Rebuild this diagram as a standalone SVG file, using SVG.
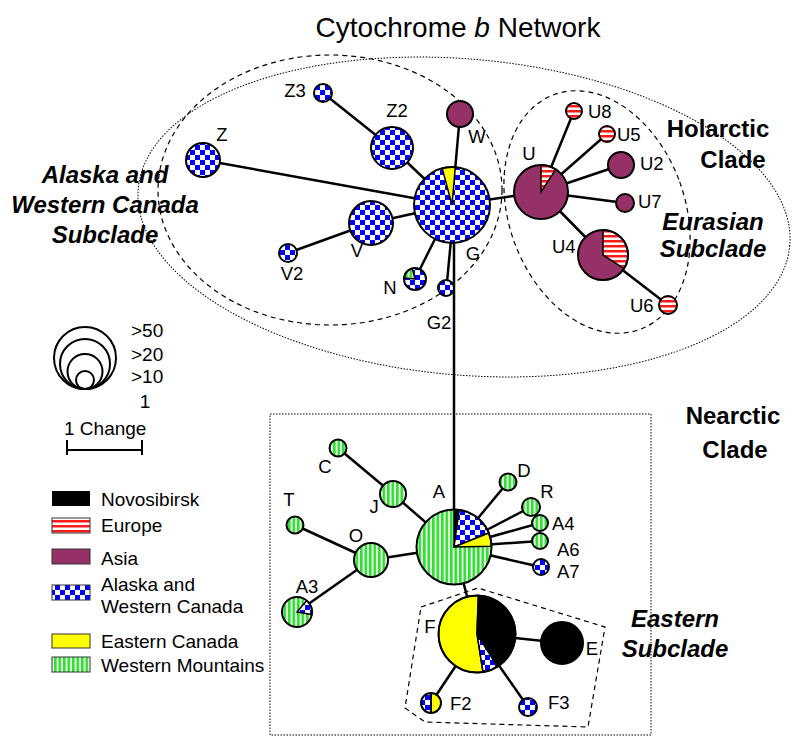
<svg xmlns="http://www.w3.org/2000/svg" width="800" height="742" viewBox="0 0 800 742">
<defs>
<pattern id="chk" width="10" height="10" patternUnits="userSpaceOnUse"><rect width="10" height="10" fill="#fff"/><rect width="5" height="5" fill="#0000ff"/><rect x="5" y="5" width="5" height="5" fill="#0000ff"/></pattern>
<pattern id="grn" width="4.5" height="10" patternUnits="userSpaceOnUse"><rect width="4.5" height="10" fill="#e6ffe6"/><rect width="2.6" height="10" fill="#33dd33"/></pattern>
<pattern id="red" width="10" height="5" patternUnits="userSpaceOnUse"><rect width="10" height="5" fill="#fff"/><rect width="10" height="2.5" fill="#ff1a1a"/></pattern>
</defs>
<style>
.ln{stroke:#000;stroke-width:2.5;fill:none}
.nd{stroke:#000;stroke-width:2}
.wd{stroke:#000;stroke-width:1.5}
.ol{stroke:#000;stroke-width:2;fill:none}
.asia{fill:#963168}
.lb{font-family:"Liberation Sans",Arial,sans-serif;font-size:18.5px;fill:#000}
.lg{font-size:19px}
.hd{font-family:"Liberation Sans",Arial,sans-serif;font-size:24px;font-weight:bold;fill:#000;text-anchor:middle}
.it{font-style:italic}
.mid{text-anchor:middle}
.sw{stroke:#333;stroke-width:1}
</style>
<rect width="800" height="742" fill="#fff"/>

<g id="title"><text class="lb mid" x="458" y="37" style="font-size:28px">Cytochrome <tspan font-style="italic">b</tspan> Network</text></g>

<g id="clade-outlines" fill="none">
<ellipse cx="464" cy="217" rx="327" ry="158" transform="rotate(5 464 217)" stroke="#000" stroke-width="1" stroke-dasharray="1.5 1.5"/>
<ellipse cx="330" cy="190" rx="172" ry="135" stroke="#000" stroke-width="1.2" stroke-dasharray="5 4"/>
<ellipse cx="597" cy="212" rx="88" ry="125" transform="rotate(-20 597 212)" stroke="#000" stroke-width="1.2" stroke-dasharray="5 4"/>
<rect x="270" y="414" width="381" height="321" stroke="#000" stroke-width="1" stroke-dasharray="1.5 1.5"/>
<polygon points="421,607 478,588 605,627 588,727 425,722 405,708" stroke="#000" stroke-width="1.2" stroke-dasharray="5 4"/>
</g>

<g id="clade-labels">
<text class="hd" x="718" y="137">Holarctic</text>
<text class="hd" x="733" y="168">Clade</text>
<text class="hd it" x="105" y="183">Alaska and</text>
<text class="hd it" x="105" y="213">Western Canada</text>
<text class="hd it" x="105" y="243">Subclade</text>
<text class="hd it" x="713" y="230">Eurasian</text>
<text class="hd it" x="713" y="257">Subclade</text>
<text class="hd" x="733" y="424">Nearctic</text>
<text class="hd" x="735" y="458">Clade</text>
<text class="hd it" x="675" y="627">Eastern</text>
<text class="hd it" x="675" y="657">Subclade</text>
</g>

<g id="connectors" class="ln">
<line x1="460" y1="114" x2="452" y2="205"/>
<line x1="203" y1="160" x2="452" y2="205"/>
<line x1="323" y1="93" x2="392" y2="148"/>
<line x1="392" y1="148" x2="452" y2="205"/>
<line x1="288" y1="253" x2="371" y2="223"/>
<line x1="371" y1="223" x2="452" y2="205"/>
<line x1="415" y1="279" x2="452" y2="205"/>
<line x1="447" y1="282" x2="451" y2="240"/>
<line x1="452" y1="205" x2="541" y2="192"/>
<line x1="541" y1="192" x2="574" y2="111"/>
<line x1="541" y1="192" x2="607" y2="134"/>
<line x1="541" y1="192" x2="621" y2="165"/>
<line x1="541" y1="192" x2="625" y2="203"/>
<line x1="541" y1="192" x2="603" y2="255"/>
<line x1="603" y1="255" x2="668" y2="305"/>
<line x1="454" y1="235" x2="454" y2="547"/>
<line x1="454" y1="547" x2="508" y2="482"/>
<line x1="454" y1="547" x2="531" y2="507"/>
<line x1="454" y1="547" x2="540" y2="523"/>
<line x1="454" y1="547" x2="540" y2="541"/>
<line x1="454" y1="547" x2="541" y2="567"/>
<line x1="338" y1="448" x2="393" y2="494"/>
<line x1="393" y1="494" x2="454" y2="547"/>
<line x1="295" y1="525" x2="371" y2="560"/>
<line x1="371" y1="560" x2="454" y2="547"/>
<line x1="297" y1="612" x2="371" y2="560"/>
<line x1="454" y1="547" x2="477" y2="634"/>
<line x1="477" y1="634" x2="562" y2="643"/>
<line x1="477" y1="634" x2="431" y2="703"/>
<line x1="477" y1="634" x2="528" y2="707"/>
</g>

<g id="node-W"><circle class="nd asia" cx="460" cy="114" r="13"/><text class="lb mid" x="477" y="143">W</text></g>
<g id="node-Z3"><circle class="nd" cx="323" cy="93" r="9" fill="url(#chk)"/><text class="lb mid" x="295" y="97">Z3</text></g>
<g id="node-Z2"><circle class="nd" cx="392" cy="148" r="21" fill="url(#chk)"/><text class="lb mid" x="397" y="117">Z2</text></g>
<g id="node-Z"><circle class="nd" cx="203" cy="160" r="17" fill="url(#chk)"/><text class="lb mid" x="222" y="141">Z</text></g>
<g id="node-V"><circle class="nd" cx="371" cy="223" r="22" fill="url(#chk)"/><text class="lb mid" x="357" y="257">V</text></g>
<g id="node-V2"><circle class="nd" cx="288" cy="253" r="9" fill="url(#chk)"/><text class="lb mid" x="292" y="280">V2</text></g>
<g id="node-G">
<circle cx="452" cy="205" r="38" fill="url(#chk)"/>
<path class="wd" d="M452,205 L442.17,168.30 A38,38 0 0 1 455.31,167.14 Z" fill="#ffff00"/>
<circle class="ol" cx="452" cy="205" r="38"/>
<text class="lb mid" x="473" y="260">G</text></g>
<g id="node-N">
<circle cx="415" cy="279" r="11" fill="url(#chk)"/>
<path class="wd" d="M415,279 L404.04,278.04 A11,11 0 0 1 412.15,268.37 Z" fill="url(#grn)"/>
<circle class="ol" cx="415" cy="279" r="11"/>
<text class="lb mid" x="390" y="294">N</text></g>
<g id="node-G2"><circle class="nd" cx="446" cy="288" r="8" fill="url(#chk)"/><text class="lb mid" x="439" y="329">G2</text></g>
<g id="node-U">
<circle class="asia" cx="541" cy="192" r="27"/>
<path class="wd" d="M541,192 L541,165 A27,27 0 0 1 555.70,169.35 Z" fill="url(#red)"/>
<circle class="ol" cx="541" cy="192" r="27"/>
<text class="lb mid" x="529" y="160">U</text></g>
<g id="node-U8"><circle class="nd" cx="574" cy="111" r="8" fill="url(#red)"/><text class="lb" x="588" y="118">U8</text></g>
<g id="node-U5"><circle class="nd" cx="607" cy="134" r="8" fill="url(#red)"/><text class="lb" x="617" y="141">U5</text></g>
<g id="node-U2"><circle class="nd asia" cx="621" cy="165" r="13"/><text class="lb" x="640" y="170">U2</text></g>
<g id="node-U7"><circle class="nd asia" cx="625" cy="203" r="9"/><text class="lb" x="638" y="208">U7</text></g>
<g id="node-U4">
<circle class="asia" cx="603" cy="255" r="25"/>
<path class="wd" d="M603,255 L603,230 A25,25 0 0 1 623.97,268.62 Z" fill="url(#red)"/>
<circle class="ol" cx="603" cy="255" r="25"/>
<text class="lb" x="552" y="253">U4</text></g>
<g id="node-U6"><circle class="nd" cx="668" cy="305" r="9" fill="url(#red)"/><text class="lb" x="630" y="312">U6</text></g>

<g id="node-A">
<circle cx="454" cy="547" r="37.5" fill="url(#grn)"/>
<path class="wd" d="M454,547 L454,509.5 A37.5,37.5 0 0 1 459.22,509.86 Z" fill="#000"/>
<path class="wd" d="M454,547 L459.22,509.86 A37.5,37.5 0 0 1 488.77,532.95 Z" fill="url(#chk)"/>
<path class="wd" d="M454,547 L488.77,532.95 A37.5,37.5 0 0 1 491.49,546.35 Z" fill="#ffff00"/>
<circle class="ol" cx="454" cy="547" r="37.5"/>
<text class="lb mid" x="439" y="498">A</text></g>
<g id="node-D"><circle class="nd" cx="508" cy="482" r="8.5" fill="url(#grn)"/><text class="lb mid" x="524" y="477">D</text></g>
<g id="node-R"><circle class="nd" cx="531" cy="507" r="9" fill="url(#grn)"/><text class="lb mid" x="547" y="498">R</text></g>
<g id="node-A4"><circle class="nd" cx="540" cy="523" r="8" fill="url(#grn)"/><text class="lb" x="552" y="530">A4</text></g>
<g id="node-A6"><circle class="nd" cx="540" cy="541" r="8" fill="url(#grn)"/><text class="lb" x="557" y="556">A6</text></g>
<g id="node-A7"><circle class="nd" cx="541" cy="567" r="8" fill="url(#chk)"/><text class="lb" x="557" y="578">A7</text></g>
<g id="node-C"><circle class="nd" cx="338" cy="448" r="8.5" fill="url(#grn)"/><text class="lb mid" x="325" y="473">C</text></g>
<g id="node-J"><circle class="nd" cx="393" cy="494" r="13" fill="url(#grn)"/><text class="lb mid" x="374" y="513">J</text></g>
<g id="node-T"><circle class="nd" cx="295" cy="525" r="8.5" fill="url(#grn)"/><text class="lb mid" x="289" y="506">T</text></g>
<g id="node-O"><circle class="nd" cx="371" cy="560" r="17" fill="url(#grn)"/><text class="lb mid" x="356" y="542">O</text></g>
<g id="node-A3">
<circle cx="297" cy="612" r="15" fill="url(#grn)"/>
<path class="wd" d="M297,612 L306.64,600.51 A15,15 0 0 1 311.77,614.60 Z" fill="url(#chk)"/>
<circle class="ol" cx="297" cy="612" r="15"/>
<text class="lb mid" x="307" y="593">A3</text></g>

<g id="node-F">
<path class="wd" d="M477,634 L483.02,672.03 A38.5,38.5 0 1 1 478.34,595.52 Z" fill="#ffff00"/>
<path class="wd" d="M477,634 L478.34,595.52 A38.5,38.5 0 0 1 497.40,666.65 Z" fill="#000"/>
<path class="wd" d="M477,634 L497.40,666.65 A38.5,38.5 0 0 1 483.02,672.03 Z" fill="url(#chk)"/>
<circle class="ol" cx="477" cy="634" r="38.5"/>
<text class="lb mid" x="430" y="633">F</text></g>
<g id="node-E"><circle class="nd" cx="562" cy="643" r="21" fill="#000"/><text class="lb mid" x="592" y="655">E</text></g>
<g id="node-F2">
<path d="M431,693 A10,10 0 0 0 431,713 Z" fill="url(#chk)"/>
<path d="M431,693 A10,10 0 0 1 431,713 Z" fill="#ffff00"/>
<line x1="431" y1="693" x2="431" y2="713" stroke="#000" stroke-width="2"/>
<circle class="ol" cx="431" cy="703" r="10"/>
<text class="lb" x="450" y="710">F2</text></g>
<g id="node-F3"><circle class="nd" cx="528" cy="707" r="9" fill="url(#chk)"/><text class="lb" x="548" y="709">F3</text></g>

<g id="size-legend" fill="none" stroke="#000" stroke-width="2">
<circle cx="85" cy="358" r="31"/>
<circle cx="85" cy="364" r="25"/>
<circle cx="85" cy="371.5" r="17.5"/>
<circle cx="85" cy="380" r="9"/>
</g>
<g id="size-labels">
<text class="lb lg" x="131" y="337">&gt;50</text>
<text class="lb lg" x="131" y="361">&gt;20</text>
<text class="lb lg" x="131" y="383">&gt;10</text>
<text class="lb lg mid" x="145" y="408">1</text>
</g>
<g id="scale">
<text class="lb lg" x="64" y="435">1 Change</text>
<path d="M67,440 V455 M142,440 V455 M67,450 H142" stroke="#000" stroke-width="2" fill="none"/>
</g>

<g id="legend">
<rect x="52" y="491" width="38" height="15" fill="#000"/>
<text class="lb lg" x="101" y="506">Novosibirsk</text>
<rect class="sw" x="52" y="518" width="38" height="15" fill="url(#red)"/>
<text class="lb lg" x="101" y="532">Europe</text>
<rect class="sw" x="52" y="549" width="38" height="15" fill="#963168"/>
<text class="lb lg" x="101" y="565">Asia</text>
<rect class="sw" x="52" y="585" width="38" height="15" fill="url(#chk)"/>
<text class="lb lg" x="101" y="591">Alaska and</text>
<text class="lb lg" x="101" y="613">Western Canada</text>
<rect class="sw" x="52" y="634" width="38" height="14" fill="#ffff00"/>
<text class="lb lg" x="101" y="648">Eastern Canada</text>
<rect class="sw" x="52" y="657" width="38" height="15" fill="url(#grn)"/>
<text class="lb lg" x="101" y="672">Western Mountains</text>
</g>
</svg>
